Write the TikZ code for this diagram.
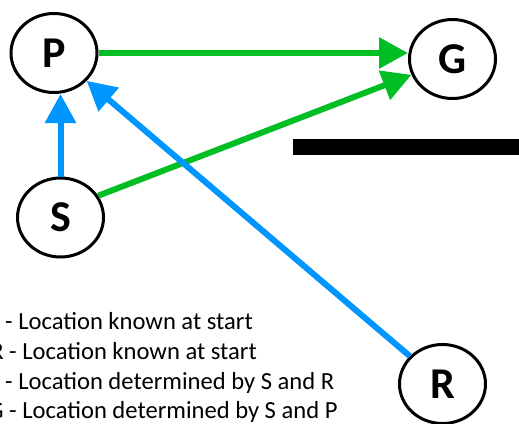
\documentclass[tikz,border=0pt]{standalone}
\usepackage{fontspec}
\setmainfont{Carlito}
\usetikzlibrary{positioning, shapes.geometric, arrows.meta}
\definecolor{linkgreen}{RGB}{0,190,35}
\definecolor{linkblue}{RGB}{0,150,255}

\begin{document}
\begin{tikzpicture}[x=1pt, y=-1pt]

  \tikzstyle{place}=[ellipse, draw, line width=3pt, minimum width=86pt, minimum height=79pt, inner sep=0pt, font=\fontsize{44}{44}\selectfont\bfseries]
  \tikzstyle{link}=[line width=6pt, -{Triangle[length=29pt, width=30pt]}]
  \tikzstyle{found}=[link, linkgreen]
  \tikzstyle{known}=[link, linkblue]
  \tikzstyle{legend}=[anchor=base west, inner sep=0pt, font=\fontsize{24.6}{30}\selectfont]

  \useasboundingbox (0,0) rectangle (519,423);
  \clip (0,0) rectangle (519,423);

  \node [place] (P) at (54,53) {P};
  \node [place] (G) at (452.5,59) {G};
  \node [place] (S) at (60.5,217.5) {S};
  \node [place] (R) at (442.5,384) {R};

  \fill (293,139) rectangle (519,155);

  \draw [found] (P.east) -- (P.east -| G.west);
  \draw [found] (S.30) -- (G);
  \draw [known] (S.north) -- (S.north |- P.south);
  \draw [known] (R) -- (P);

  \node [legend] (lS) at (5,329) {\llap{S }- Location known at start};
  \node [legend] (lR) at (9,359) {\llap{R }- Location known at start};
  \node [legend] (lP) at (5,389) {\llap{P }- Location determined by S and R};
  \node [legend] (lG) at (9,418) {\llap{G }- Location determined by S and P};
\end{tikzpicture}
\end{document}
